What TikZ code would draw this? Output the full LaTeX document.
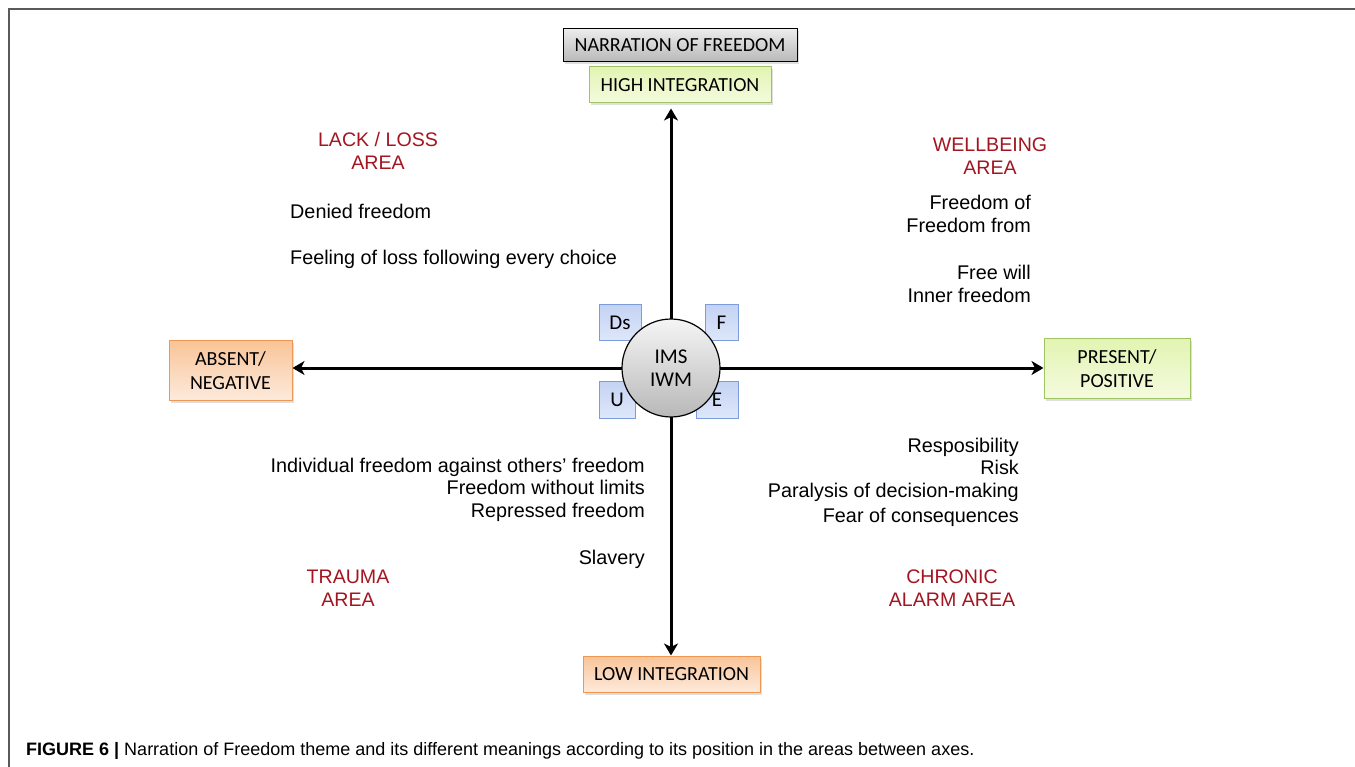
\documentclass[tikz,border=0pt]{standalone}
\usepackage{fontspec}
\setmainfont{Liberation Sans}
\newfontfamily\boxfont{Carlito}
\newfontfamily\capfont{Liberation Sans}
\usetikzlibrary{arrows.meta,shadows}

\definecolor{areared}{RGB}{163,22,33}
\definecolor{grayTop}{RGB}{236,236,236}
\definecolor{grayBot}{RGB}{184,184,184}
\definecolor{greenTop}{RGB}{226,244,178}
\definecolor{greenBot}{RGB}{244,251,222}
\definecolor{greenLine}{RGB}{160,196,100}
\definecolor{orangeTop}{RGB}{249,196,152}
\definecolor{orangeBot}{RGB}{253,234,220}
\definecolor{orangeLine}{RGB}{238,152,84}
\definecolor{blueTop}{RGB}{196,211,244}
\definecolor{blueBot}{RGB}{222,231,250}
\definecolor{blueLine}{RGB}{124,156,220}
\definecolor{frameGray}{RGB}{90,90,90}

\tikzset{
  x=1pt, y=-1pt,
  boxshadow/.style={drop shadow={opacity=0.25, shadow xshift=1.5pt, shadow yshift=-2.5pt}},
  labelbox/.style={boxshadow, draw, line width=1pt, inner sep=0pt, align=center,
    font=\boxfont\fontsize{20}{24}\selectfont},
  graybox/.style={labelbox, draw=black, top color=grayTop, bottom color=grayBot},
  greenbox/.style={labelbox, draw=greenLine, top color=greenTop, bottom color=greenBot},
  orangebox/.style={labelbox, draw=orangeLine, top color=orangeTop, bottom color=orangeBot},
  codebox/.style={draw=blueLine, line width=1pt, top color=blueTop, bottom color=blueBot,
    inner sep=0pt, font=\boxfont\fontsize{21}{24}\selectfont},
  hub/.style={circle, draw=black, line width=1.2pt, minimum size=98pt, inner sep=0pt,
    top color=white!92!gray, bottom color=grayBot, align=center,
    font=\boxfont\fontsize{21}{24}\selectfont},
  axis/.style={line width=3pt, -{Stealth[length=12pt,width=14pt,inset=3.5pt]}},
  body/.style={inner sep=0pt, font=\fontsize{19.8}{23}\selectfont},
  arealbl/.style={inner sep=0pt, text=areared, font=\fontsize{19.6}{23}\selectfont},
}

\begin{document}
\begin{tikzpicture}
\useasboundingbox (0,0) rectangle (1355,767);
\fill[white] (0,0) rectangle (1355,767);

% frame of the figure panel
\draw[frameGray, line width=1.6pt] (9,767) -- (9,9) -- (1355,9);

% axis end labels
\node[graybox, minimum width=234pt, minimum height=33pt] (narr) at (680,45.5) {NARRATION OF FREEDOM};
\node[greenbox, minimum width=182pt, minimum height=36pt] (hi) at (680,85) {HIGH INTEGRATION};
\node[orangebox, minimum width=123pt, minimum height=59pt] (absent) at (230.5,370.5) {ABSENT/\\NEGATIVE};
\node[greenbox, minimum width=146pt, minimum height=59pt] (present) at (1117,368.5) {PRESENT/\\POSITIVE};
\node[orangebox, minimum width=177pt, minimum height=36pt] (low) at (671.5,674) {LOW INTEGRATION};

% centre and the four small code boxes behind it
\coordinate (o) at (671,368);
\node[codebox, minimum width=42pt, minimum height=36pt] (ds) at (620,323) {Ds};
\node[codebox, minimum width=33pt, minimum height=36pt] (f) at (721.5,323) {F};
\node[codebox, minimum width=36pt, minimum height=37pt] (u) at (617,399.5) {U};
\node[codebox, minimum width=42pt, minimum height=37pt] (e) at (717,399.5) {E};

% axes
\draw[axis] (o) -- (o -| absent.east);
\draw[axis] (o) -- (o -| present.west);
\draw[axis, shorten >=5pt] (o) -- (o |- hi.south);
\draw[axis] (o) -- (o |- low.north);

\node[hub] (c) at (o) {IMS\\[-1pt]IWM};

% upper left: lack / loss
\node[arealbl, anchor=base] (ll1) at (378,147) {LACK / LOSS};
\node[arealbl, anchor=base] (ll2) at (378,170) {AREA};
\node[body, anchor=base west] (t1) at (290,219) {Denied freedom};
\node[body, anchor=base west] (t2) at (290,265) {Feeling of loss following every choice};

% upper right: wellbeing
\node[arealbl, anchor=base] (wb1) at (990,152) {WELLBEING};
\node[arealbl, anchor=base] (wb2) at (990,175) {AREA};
\node[body, anchor=base east] (t3) at (1031,210) {Freedom of};
\node[body, anchor=base east] (t4) at (1031,233) {Freedom from};
\node[body, anchor=base east] (t5) at (1031,280) {Free will};
\node[body, anchor=base east] (t6) at (1031,303) {Inner freedom};

% lower left: trauma
\node[body, anchor=base east] (t7) at (645,472) {Individual freedom against others’ freedom};
\node[body, anchor=base east] (t8) at (645,494) {Freedom without limits};
\node[body, anchor=base east] (t9) at (645,517) {Repressed freedom};
\node[body, anchor=base east] (t10) at (645,564) {Slavery};
\node[arealbl, anchor=base] (tr1) at (348,583) {TRAUMA};
\node[arealbl, anchor=base] (tr2) at (348,606) {AREA};

% lower right: chronic alarm
\node[body, anchor=base east] (t11) at (1019,452) {Resposibility};
\node[body, anchor=base east] (t12) at (1019,474) {Risk};
\node[body, anchor=base east] (t13) at (1019,497) {Paralysis of decision-making};
\node[body, anchor=base east] (t14) at (1019,522) {Fear of consequences};
\node[arealbl, anchor=base] (ca1) at (952,583) {CHRONIC};
\node[arealbl, anchor=base] (ca2) at (952,606) {ALARM AREA};

% caption
\node[inner sep=0pt, anchor=base west, font=\capfont\fontsize{18}{20}\selectfont] (cap) at (26,755)
  {\textbf{FIGURE 6 |} Narration of Freedom theme and its different meanings according to its position in the areas between axes.};
\end{tikzpicture}
\end{document}
